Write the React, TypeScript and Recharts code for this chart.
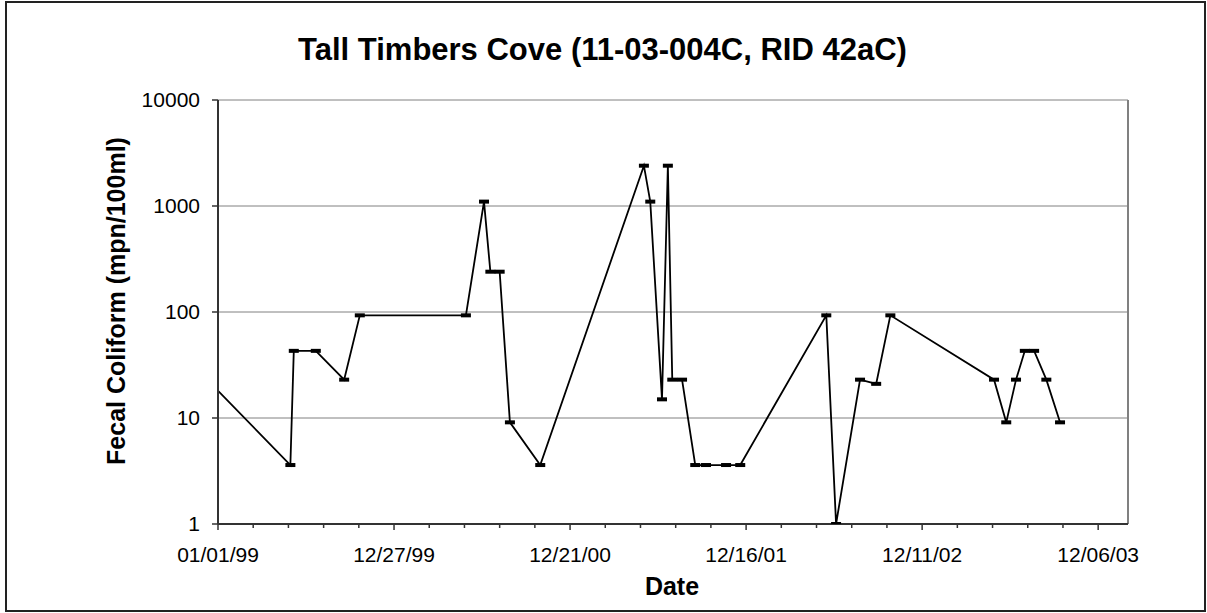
import React from "react";
import {
  CartesianGrid,
  Line,
  LineChart,
  ReferenceLine,
  XAxis,
  YAxis,
} from "recharts";

const FONT = '"Liberation Sans", Arial, Helvetica, sans-serif';
const GRID = "#808080";
const AXIS = "#333333";
const DAY = 86400000;

// sample dates (the first one lies before the axis start and is clipped)
const sampleDates = [
  "1998-12-10", "1999-05-29", "1999-06-05", "1999-07-20", "1999-09-16",
  "1999-10-18", "2000-05-22", "2000-06-28", "2000-07-11", "2000-07-30",
  "2000-08-20", "2000-10-21", "2001-05-21", "2001-06-03", "2001-06-27",
  "2001-07-09", "2001-07-18", "2001-08-07", "2001-09-03", "2001-09-25",
  "2001-11-05", "2001-12-04", "2002-05-29", "2002-06-18", "2002-08-06",
  "2002-09-08", "2002-10-07", "2003-05-07", "2003-06-01", "2003-06-21",
  "2003-07-09", "2003-07-28", "2003-08-22", "2003-09-19",
];

// fecal coliform, mpn/100ml
const fecalColiform = [
  23, 3.6, 43, 43, 23,
  93, 93, 1100, 240, 240,
  9.1, 3.6, 2400, 1100, 15,
  2400, 23, 23, 3.6, 3.6,
  3.6, 3.6, 93, 1, 23,
  21, 93, 23, 9.1, 23,
  43, 43, 23, 9.1,
];

const majorTickDates = [
  "1999-01-01", "1999-12-27", "2000-12-21",
  "2001-12-16", "2002-12-11", "2003-12-06",
];
const yTicks = [1, 10, 100, 1000, 10000];

const toTime = (s: string) => {
  const [y, m, d] = s.split("-").map(Number);
  return Date.UTC(y, m - 1, d);
};

const X_MIN = toTime(majorTickDates[0]);
const X_MAX = X_MIN + 1861 * DAY;
const MINOR_STEP = 72 * DAY;

const majorTimes = majorTickDates.map(toTime);
const xTicks: number[] = [];
for (let t = X_MIN; t <= majorTimes[majorTimes.length - 1]; t += MINOR_STEP) xTicks.push(t);

const data = sampleDates.map((d, i) => ({ t: toTime(d), value: fecalColiform[i] }));

function fmtDate(t: number): string {
  const d = new Date(t);
  const p = (n: number) => String(n).padStart(2, "0");
  return `${p(d.getUTCMonth() + 1)}/${p(d.getUTCDate())}/${p(d.getUTCFullYear() % 100)}`;
}

function DateTick(props: any) {
  const { x, y, payload } = props;
  const major = majorTimes.includes(payload.value);
  return (
    <g>
      <line x1={x} x2={x} y1={y} y2={y + (major ? 6 : 4)} stroke={AXIS} strokeWidth={1.5} />
      {major && (
        <text x={x} y={y + 38} textAnchor="middle" fontSize={21} fill="#000" fontFamily={FONT}>
          {fmtDate(payload.value)}
        </text>
      )}
    </g>
  );
}

function DashMarker(props: any) {
  const { cx, cy, index } = props;
  if (cx == null || cy == null) return <g key={index} />;
  return <rect key={index} x={cx - 5} y={cy - 2} width={10} height={4} fill="#000" />;
}

export default function App() {
  return (
    <div
      style={{
        position: "absolute",
        left: 0,
        top: 0,
        width: 1207,
        height: 613,
        background: "#fff",
        fontFamily: FONT,
      }}
    >
      <div
        style={{
          position: "absolute",
          left: 5,
          top: 1,
          width: 1201,
          height: 611,
          border: "2px solid #222",
          boxSizing: "border-box",
        }}
      />
      <div
        style={{
          position: "absolute",
          left: 0,
          top: 34,
          width: 1205,
          textAlign: "center",
          fontSize: 31,
          lineHeight: "31px",
          fontWeight: "bold",
        }}
      >
        Tall Timbers Cove (11-03-004C, RID 42aC)
      </div>
      <div style={{ position: "absolute", left: 0, top: 0 }}>
        <LineChart
          width={1207}
          height={613}
          data={data}
          margin={{ top: 100, right: 79, bottom: 29, left: 118 }}
        >
          <CartesianGrid vertical={false} stroke={GRID} strokeWidth={1} />
          <XAxis
            dataKey="t"
            type="number"
            domain={[X_MIN, X_MAX]}
            allowDataOverflow
            ticks={xTicks}
            interval={0}
            height={60}
            tickSize={0}
            tickMargin={0}
            tickLine={false}
            tick={<DateTick />}
            axisLine={{ stroke: AXIS, strokeWidth: 2 }}
          />
          <YAxis
            type="number"
            scale="log"
            domain={[1, 10000]}
            allowDataOverflow
            ticks={yTicks}
            interval={0}
            width={100}
            tickSize={6}
            tickMargin={12}
            tickLine={{ stroke: AXIS, strokeWidth: 1.5 }}
            axisLine={{ stroke: AXIS, strokeWidth: 2 }}
            tick={{ fontSize: 21, fill: "#000", fontFamily: FONT }}
          />
          <ReferenceLine x={X_MAX} stroke={GRID} strokeWidth={2} />
          <Line
            dataKey="value"
            stroke="#000"
            strokeWidth={1.8}
            dot={<DashMarker />}
            activeDot={false}
            isAnimationActive={false}
          />
        </LineChart>
      </div>
      <div
        style={{
          position: "absolute",
          left: 472,
          top: 574,
          width: 400,
          textAlign: "center",
          fontSize: 25,
          lineHeight: "25px",
          fontWeight: "bold",
        }}
      >
        Date
      </div>
      <div
        style={{
          position: "absolute",
          left: 115.5 - 200,
          top: 301 - 15,
          width: 400,
          height: 30,
          textAlign: "center",
          fontSize: 25,
          lineHeight: "30px",
          fontWeight: "bold",
          transform: "rotate(-90deg)",
        }}
      >
        Fecal Coliform (mpn/100ml)
      </div>
    </div>
  );
}
